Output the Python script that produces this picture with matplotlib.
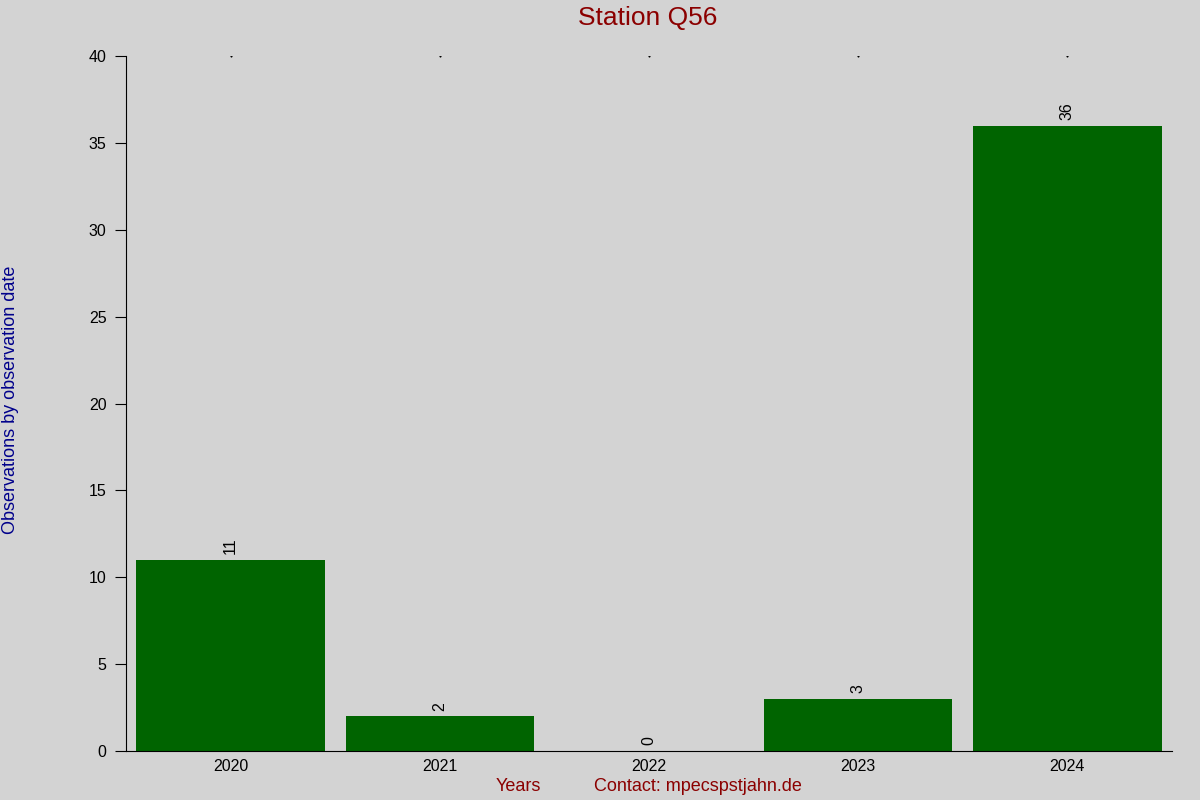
import matplotlib
matplotlib.use("Agg")
import matplotlib.pyplot as plt

plt.rcParams['font.family'] = ['Liberation Sans', 'DejaVu Sans']

# data
years = ['2020', '2021', '2022', '2023', '2024']
counts = [11, 2, 0, 3, 36]
yticks = [0, 5, 10, 15, 20, 25, 30, 35, 40]

bg = '#d3d3d3'
fig = plt.figure(figsize=(12, 8), dpi=100, facecolor=bg)
ax = fig.add_axes([126/1200, 49/800, (1172-126)/1200, (751-56)/800])
ax.set_facecolor(bg)

x = list(range(len(years)))
ax.bar(x, counts, width=0.9, color='#006400')
for xi, c in zip(x, counts):
    ax.annotate(str(c), (xi, c), xytext=(0, 4), textcoords='offset points',
                rotation=90, ha='center', va='bottom', fontsize=11.5)

# tiny marks along the top
ax.plot(x, [40]*len(x), ls='none', marker='s', ms=0.5, color='black')

ax.set_xlim(-0.5, 4.5)
ax.set_ylim(0, 40)
ax.set_xticks(x)
ax.set_xticklabels(years, fontsize=11.5)
ax.tick_params(axis='x', length=0, pad=6)
ax.set_yticks(yticks)
ax.tick_params(axis='y', length=8, labelsize=11.5, pad=6)
ax.spines['top'].set_visible(False)
ax.spines['right'].set_visible(False)

fig.text(0.54, 0.977, 'Station Q56', ha='center', va='center', fontsize=19, color='#8b0000')
fig.text(0.009, 0.5, 'Observations by observation date', rotation=90,
         ha='center', va='center', fontsize=13, color='#00008b')
fig.text(0.432, 0.017, 'Years', ha='center', va='center', fontsize=13, color='#8b0000')
fig.text(0.582, 0.017, 'Contact: mpecspstjahn.de', ha='center', va='center', fontsize=13, color='#8b0000')

fig.savefig('out.png', dpi=100, facecolor=bg)
